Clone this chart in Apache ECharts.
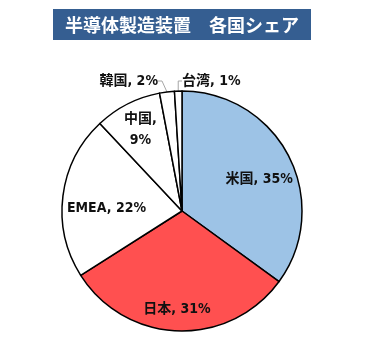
<!DOCTYPE html>
<html>
<head>
<meta charset="utf-8">
<script src="https://cdn.jsdelivr.net/npm/echarts@6/dist/echarts.min.js"></script>
<style>
  html, body { margin: 0; padding: 0; background: #fff; }
  #chart { width: 367px; height: 341px; }
</style>
</head>
<body>
<div id="chart"></div>
<script>
// Shares of semiconductor manufacturing equipment by country/region (%)
const regions = ['米国', '日本', 'EMEA', '中国', '韓国', '台湾'];
const shares = [35, 31, 22, 9, 2, 1];
const sliceColors = ['#9DC3E6', '#FF5050', '#FFFFFF', '#FFFFFF', '#FFFFFF', '#FFFFFF'];
const titleText = '半導体製造装置　各国シェア';

const FONT = '"DejaVu Sans Condensed", "Noto Sans CJK JP", sans-serif';
const TITLE_FONT = '"Noto Sans CJK JP", sans-serif';

// label tweaks per slice: inside labels nudged outward, small slices labelled outside
const labelStyles = [
  { position: 'inside', offset: [21, -3] },
  { position: 'inside', offset: [-3, 35] },
  { position: 'inside', offset: [-13, 5] },
  { position: 'inside', offset: [-13, -25], formatter: '{b},\n{c}%', lineHeight: 21 },
  { position: 'outside' },
  { position: 'outside' }
];

const data = regions.map((name, i) => ({
  name: name,
  value: shares[i],
  itemStyle: { color: sliceColors[i] },
  label: labelStyles[i]
}));

const chart = echarts.init(document.getElementById('chart'), null, { renderer: 'canvas' });
chart.setOption({
  animation: false,
  graphic: [
    { type: 'rect', shape: { x: 53, y: 9, width: 258, height: 31 }, style: { fill: '#355E91' } },
    {
      type: 'text', x: 182, y: 25,
      style: {
        text: titleText, fill: '#FFFFFF', font: 'bold 18px ' + TITLE_FONT,
        align: 'center', verticalAlign: 'middle'
      }
    }
  ],
  series: [{
    type: 'pie',
    center: [182, 211],
    radius: 120,
    startAngle: 90,
    clockwise: true,
    avoidLabelOverlap: false,
    itemStyle: { borderColor: '#000', borderWidth: 1.5 },
    label: {
      formatter: '{b}, {c}%',
      color: '#111',
      fontFamily: FONT,
      fontWeight: 'bold',
      fontSize: 14
    },
    labelLine: { length: 7, length2: 4, lineStyle: { color: '#A6A6A6', width: 1 } },
    labelLayout: function (p) {
      if (p.dataIndex === 4) return { x: 158, y: 81, align: 'right', verticalAlign: 'middle' };
      if (p.dataIndex === 5) return { x: 182, y: 81, align: 'left', verticalAlign: 'middle' };
      return {};
    },
    data: data
  }]
});
</script>
</body>
</html>
